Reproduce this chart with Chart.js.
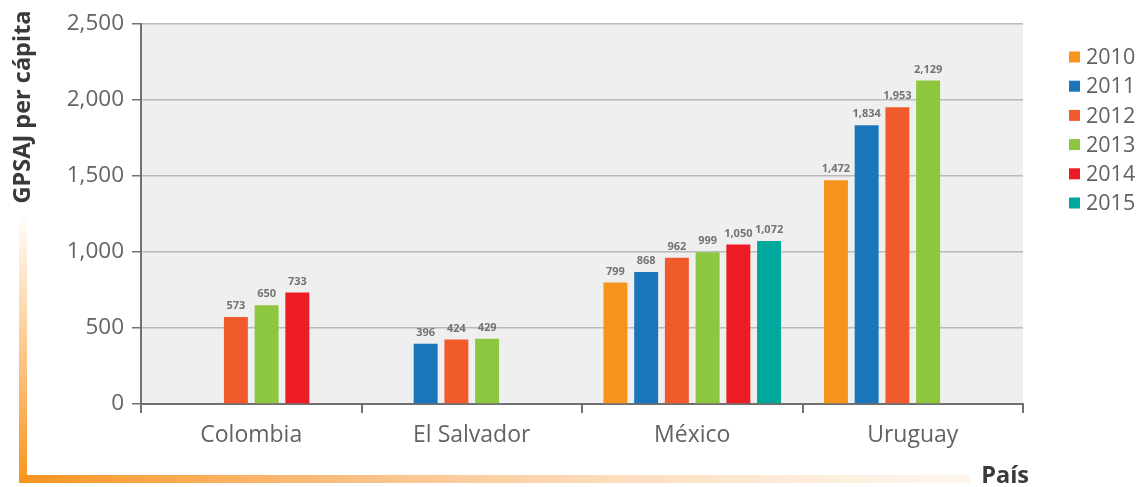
<!DOCTYPE html>
<html>
<head>
<meta charset="utf-8">
<script src="https://cdn.jsdelivr.net/npm/chart.js@4"></script>
<style>
  html, body { margin: 0; padding: 0; background: #fff; }
  #wrap { width: 1138px; height: 487px; position: relative; }
</style>
</head>
<body>
<div id="wrap"><canvas id="gastoChart"></canvas></div>
<script>
// Países y años
const paises = ['Colombia', 'El Salvador', 'México', 'Uruguay'];
const anios = ['2010', '2011', '2012', '2013', '2014', '2015'];

// GPSAJ per cápita por año (null = sin dato)
const gasto2010 = [null, null, 799, 1472];
const gasto2011 = [null, 396, 868, 1834];
const gasto2012 = [573, 424, 962, 1953];
const gasto2013 = [650, 429, 999, 2129];
const gasto2014 = [733, null, 1050, null];
const gasto2015 = [null, null, 1072, null];

const colores = ['#f7941d', '#1b75bb', '#f15a2b', '#8dc63f', '#ed1c24', '#00a79d'];
const series = [gasto2010, gasto2011, gasto2012, gasto2013, gasto2014, gasto2015];

const FONT = '"Open Sans", "Noto Sans", sans-serif';
const fmt = v => v.toLocaleString('en-US');

// gray plot background
const fondoPlugin = {
  id: 'fondo',
  beforeDraw(chart) {
    const { ctx, chartArea: a } = chart;
    ctx.save();
    ctx.fillStyle = '#efefef';
    ctx.fillRect(a.left, a.top, a.right - a.left, a.bottom - a.top);
    ctx.restore();
  }
};

// values above each bar
const etiquetasPlugin = {
  id: 'etiquetas',
  afterDatasetsDraw(chart) {
    const ctx = chart.ctx;
    ctx.save();
    ctx.font = 'bold 11px ' + FONT;
    ctx.fillStyle = '#737373';
    ctx.textAlign = 'center';
    ctx.textBaseline = 'middle';
    chart.data.datasets.forEach((ds, i) => {
      chart.getDatasetMeta(i).data.forEach((bar, j) => {
        const v = ds.data[j];
        if (v === null || v === undefined) return;
        ctx.fillText(fmt(v), bar.x, bar.y - 11);
      });
    });
    ctx.restore();
  }
};

// axis titles, orange corner frame and legend
const decoPlugin = {
  id: 'deco',
  afterDraw(chart) {
    const ctx = chart.ctx;
    ctx.save();

    // orange L frame fading out
    let g = ctx.createLinearGradient(0, 483, 0, 212);
    g.addColorStop(0, 'rgba(247,148,29,1)');
    g.addColorStop(1, 'rgba(247,148,29,0)');
    ctx.fillStyle = g;
    ctx.fillRect(19, 212, 8, 271);
    g = ctx.createLinearGradient(19, 0, 970, 0);
    g.addColorStop(0, 'rgba(247,148,29,1)');
    g.addColorStop(0.35, 'rgba(249,180,110,0.85)');
    g.addColorStop(1, 'rgba(252,225,195,0.3)');
    ctx.fillStyle = g;
    ctx.fillRect(19, 475, 951, 8);

    // y title
    ctx.fillStyle = '#3a3a3a';
    ctx.font = 'bold 23.5px ' + FONT;
    ctx.textAlign = 'center';
    ctx.textBaseline = 'middle';
    ctx.translate(23, 107);
    ctx.rotate(-Math.PI / 2);
    ctx.fillText('GPSAJ per cápita', 0, 0);
    ctx.setTransform(1, 0, 0, 1, 0, 0);

    // x title
    ctx.textAlign = 'right';
    ctx.fillText('País', 1029, 476);

    // legend
    ctx.font = '21.5px ' + FONT;
    ctx.textAlign = 'left';
    chart.data.datasets.forEach((ds, i) => {
      const y = 57 + i * 29.2;
      ctx.fillStyle = ds.backgroundColor;
      ctx.fillRect(1069, y - 5.5, 11, 11);
      ctx.fillStyle = '#626262';
      ctx.fillText(ds.label, 1086, y + 1);
    });
    ctx.restore();
  }
};

const datasets = anios.map((a, i) => ({
  label: a,
  data: series[i],
  backgroundColor: colores[i],
  categoryPercentage: 0.836,
  barPercentage: 0.78,
  skipNull: false
}));

new Chart(document.getElementById('gastoChart'), {
  type: 'bar',
  data: { labels: paises, datasets },
  plugins: [fondoPlugin, etiquetasPlugin, decoPlugin],
  options: {
    responsive: true,
    maintainAspectRatio: false,
    animation: false,
    layout: { padding: { top: 24, right: 115, left: 0, bottom: 0 } },
    plugins: {
      legend: { display: false },
      tooltip: { enabled: false }
    },
    scales: {
      x: {
        afterFit: s => { s.height = 83; },
        grid: {
          offset: true,
          drawOnChartArea: false,
          drawTicks: true,
          tickLength: 9,
          tickColor: '#707070',
          lineWidth: 2
        },
        border: { color: '#707070', width: 2 },
        ticks: {
          color: '#636363',
          font: { family: FONT, size: 23 },
          padding: 9
        }
      },
      y: {
        min: 0,
        max: 2500,
        afterFit: s => { s.width = 141; },
        grid: {
          color: '#b9b9be',
          lineWidth: 1.5,
          tickLength: 9,
          tickColor: '#707070'
        },
        border: { color: '#707070', width: 2 },
        ticks: {
          stepSize: 500,
          color: '#636363',
          font: { family: FONT, size: 22.5 },
          padding: 8,
          callback: v => fmt(v)
        }
      }
    }
  }
});
</script>
</body>
</html>
